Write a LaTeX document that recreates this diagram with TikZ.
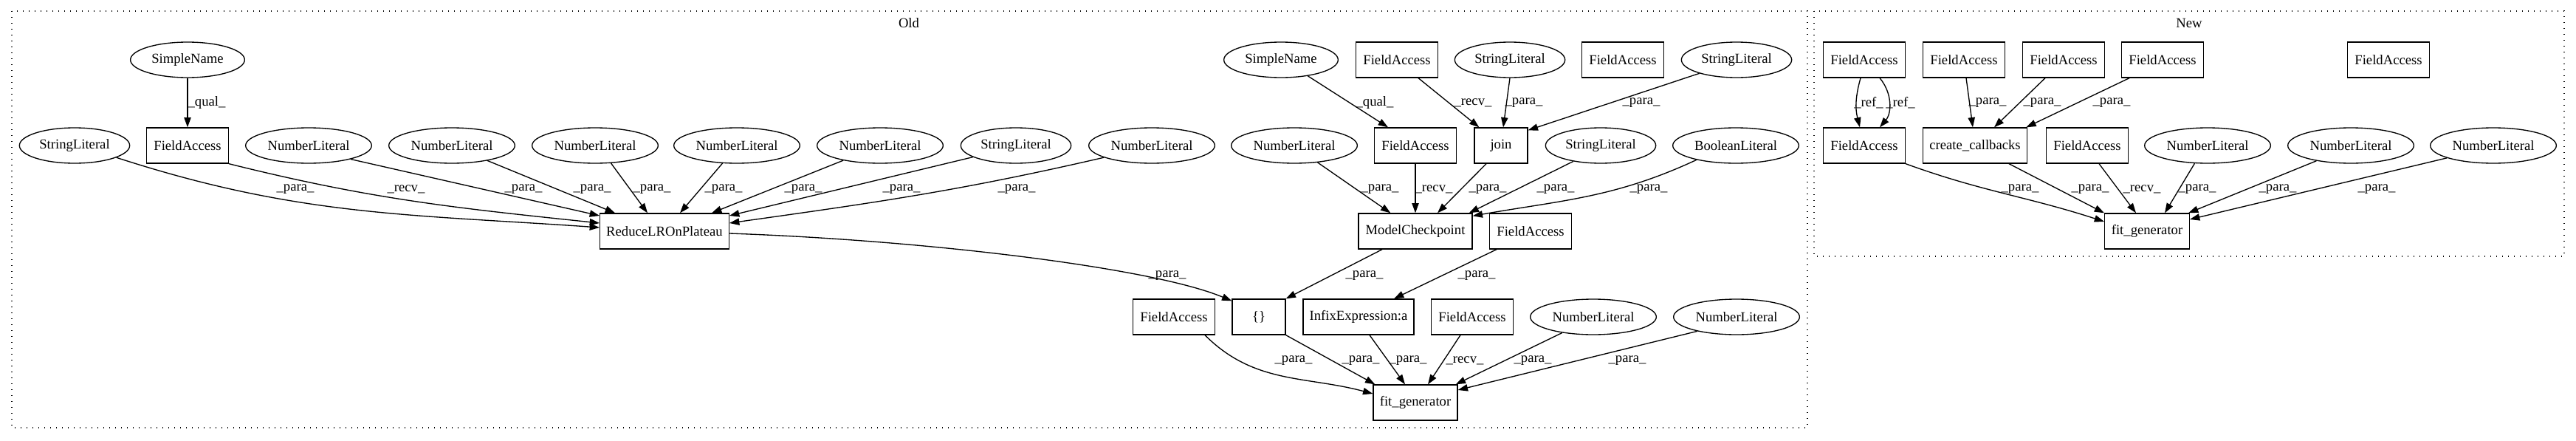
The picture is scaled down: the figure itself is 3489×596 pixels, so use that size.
\documentclass[tikz,border=0pt]{standalone}
\usepackage{fontspec}
\setmainfont{Liberation Serif}
\usetikzlibrary{shapes.geometric,arrows.meta}
\begin{document}
\begin{tikzpicture}[x=0.75pt,y=0.75pt,
  every node/.style={font=\fontsize{14pt}{16pt}\selectfont},
  box/.style={draw, rectangle, line width=1pt, minimum height=36pt, inner sep=0pt},
  ell/.style={draw, ellipse, line width=1pt, minimum height=36pt, inner sep=0pt},
  fa/.style={box, minimum width=83pt},
  nl/.style={ell, minimum width=128pt},
  sl/.style={ell, minimum width=112pt},
  sn/.style={ell, minimum width=116pt},
  e/.style={line width=1pt, -{Triangle[length=10pt,width=7pt]}},
  lbl/.style={inner sep=0pt},
  cluster/.style={line width=1pt, dash pattern=on 1pt off 5pt},
]
\useasboundingbox (0,0) rectangle (3489,-596);
% clusters
\draw[cluster] (16,-15) rectangle (2448,-579);
\draw[cluster] (2457,-15) rectangle (3473,-347);
\node (told) at (1231,-31) {Old};
\node (tnew) at (2965,-31) {New};

% ---------- Old ----------
% row 1
\node[sn] (osn1) at (254,-81) {SimpleName};
\node[sn] (osn2) at (1735,-81) {SimpleName};
\node[fa] (ofa1) at (1892,-81) {FieldAccess};
\node[sl] (osl1) at (2045,-81) {StringLiteral};
\node[fa] (ofa2) at (2198,-81) {FieldAccess};
\node[sl] (osl2) at (2352,-81) {StringLiteral};
% row 2
\node[sl] (osl3) at (101,-197) {StringLiteral};
\node[fa] (ofa3) at (254,-197) {FieldAccess};
\node[nl] (onl1) at (418,-197) {NumberLiteral};
\node[nl] (onl2) at (612,-197) {NumberLiteral};
\node[nl] (onl3) at (806,-197) {NumberLiteral};
\node[nl] (onl4) at (998,-197) {NumberLiteral};
\node[nl] (onl5) at (1192,-197) {NumberLiteral};
\node[sl] (osl4) at (1376,-197) {StringLiteral};
\node[nl] (onl6) at (1560,-197) {NumberLiteral};
\node[nl] (onl7) at (1753,-197) {NumberLiteral};
\node[fa] (ofa4) at (1917,-197) {FieldAccess};
\node[box, minimum width=54pt] (ojoin) at (2033,-197) {join};
\node[sl] (osl5) at (2168,-197) {StringLiteral};
\node[ell, minimum width=128pt] (obool) at (2351,-197) {BooleanLiteral};
% row 3
\node[box, minimum width=131pt] (orlr) at (900,-313) {ReduceLROnPlateau};
\node[box, minimum width=115.5pt] (omc) at (1917,-313) {ModelCheckpoint};
\node[fa] (ofa5) at (2073,-313) {FieldAccess};
% row 4
\node[fa] (ofa6) at (1590,-429) {FieldAccess};
\node[box, minimum width=54pt] (obr) at (1705,-429) {\{\}};
\node[box, minimum width=112.5pt] (oinf) at (1840,-429) {InfixExpression:a};
\node[fa] (ofa7) at (1994,-429) {FieldAccess};
\node[nl] (onl8) at (2158,-429) {NumberLiteral};
\node[nl] (onl9) at (2352,-429) {NumberLiteral};
% row 5
\node[box, minimum width=85.5pt] (ofit) at (1917,-545) {fit\_generator};

% Old edges
\draw[e] (osn1) -- (ofa3) node[lbl] (L1) at (280,-139) {\_qual\_};
\draw[e] (osl3.-16) to[out=-18,in=176] ([shift={(0,5)}]orlr.west) node[lbl] (L2) at (400,-256) {\_para\_};
\draw[e] (ofa3.south east) to[out=-14,in=174] ([shift={(0,11)}]orlr.west) node[lbl] (L3) at (550,-256) {\_recv\_};
\draw[e] (onl1.-18) -- ([shift={(0,21)}]orlr.west) node[lbl] (L4) at (709,-256) {\_para\_};
\draw[e] (onl2.-23) -- ([shift={(21,0)}]orlr.north west) node[lbl] (L5) at (802,-256) {\_para\_};
\draw[e] (onl3.-48) -- ([shift={(65,0)}]orlr.north west) node[lbl] (L6) at (883,-256) {\_para\_};
\draw[e] (onl4.-129) -- ([shift={(109,0)}]orlr.north west) node[lbl] (L7) at (980,-256) {\_para\_};
\draw[e] (onl5.-158) -- ([shift={(152,0)}]orlr.north west) node[lbl] (L8) at (1088,-256) {\_para\_};
\draw[e] (osl4.-165) -- ([shift={(0,21)}]orlr.east) node[lbl] (L9) at (1221,-256) {\_para\_};
\draw[e] (onl6.-166) to[out=-167,in=8] ([shift={(0,11)}]orlr.east) node[lbl] (L10) at (1377,-256) {\_para\_};
\draw[e] ([shift={(0,-3)}]orlr.east) .. controls (1250,-325) and (1560,-362) .. ([shift={(0,-3)}]obr.north west) node[lbl] (L11) at (1581,-373) {\_para\_};
\draw[e] (osn2.-31) -- ([shift={(19,0)}]ofa4.north west) node[lbl] (L12) at (1862,-139) {\_qual\_};
\draw[e] ([shift={(29,0)}]ofa1.south) -- ([shift={(7,0)}]ojoin.north west) node[lbl] (L13) at (1995,-139) {\_recv\_};
\draw[e] (osl1.south) -- ([shift={(3,0)}]ojoin.north) node[lbl] (L14) at (2064,-139) {\_para\_};
\draw[e] (osl2.-160) -- ([shift={(0,-4)}]ojoin.north east) node[lbl] (L15) at (2223,-139) {\_para\_};
\draw[e] (onl7.-36) -- ([shift={(44,0)}]omc.north west) node[lbl] (L16) at (1869,-256) {\_para\_};
\draw[e] (ofa4) -- (omc) node[lbl] (L17) at (1942,-256) {\_recv\_};
\draw[e] ([shift={(-20,0)}]ojoin.south) -- ([shift={(30,0)}]omc.north) node[lbl] (L18) at (2015,-256) {\_para\_};
\draw[e] (osl5.-150) -- ([shift={(-5,0)}]omc.north east) node[lbl] (L19) at (2107,-256) {\_para\_};
\draw[e] (obool.-160) to[out=-155,in=10] ([shift={(0,-4)}]omc.north east) node[lbl] (L20) at (2233,-256) {\_para\_};
\draw[e] ([shift={(-45,0)}]omc.south) -- (obr.north east) node[lbl] (L21) at (1848,-373) {\_para\_};
\draw[e] ([shift={(10,0)}]ofa5.south west) -- ([shift={(48,0)}]oinf.north) node[lbl] (L22) at (2000,-373) {\_para\_};
\draw[e] ([shift={(-14,0)}]ofa6.south east) to[out=-45,in=165] ([shift={(0,12)}]ofit.west) node[lbl] (L23) at (1752,-488) {\_para\_};
\draw[e] (obr.south east) -- ([shift={(3,0)}]ofit.north west) node[lbl] (L24) at (1843,-488) {\_para\_};
\draw[e] ([shift={(15,0)}]oinf.south) -- ([shift={(-14,0)}]ofit.north) node[lbl] (L25) at (1907,-488) {\_para\_};
\draw[e] ([shift={(-16,0)}]ofa7.south) -- ([shift={(17,0)}]ofit.north) node[lbl] (L26) at (1984,-488) {\_recv\_};
\draw[e] (onl8.-153) -- ([shift={(-3,0)}]ofit.north east) node[lbl] (L27) at (2076,-488) {\_para\_};
\draw[e] (onl9.-160) -- ([shift={(0,17)}]ofit.east) node[lbl] (L28) at (2204,-488) {\_para\_};

% ---------- New ----------
\node[fa] (nfa1) at (2525,-81) {FieldAccess};
\node[fa] (nfa2) at (2660,-81) {FieldAccess};
\node[fa] (nfa3) at (2795,-81) {FieldAccess};
\node[fa] (nfa4) at (2929,-81) {FieldAccess};
\node[fa] (nfa5) at (3235,-81) {FieldAccess};
\node[fa] (nfa6) at (2525,-197) {FieldAccess};
\node[box, minimum width=106pt] (ncc) at (2675,-197) {create\_callbacks};
\node[fa] (nfa7) at (2827,-197) {FieldAccess};
\node[nl] (nnl1) at (2990,-197) {NumberLiteral};
\node[nl] (nnl2) at (3184,-197) {NumberLiteral};
\node[nl] (nnl3) at (3377,-197) {NumberLiteral};
\node[box, minimum width=86pt] (nfit) at (2908,-313) {fit\_generator};

\draw[e] ([shift={(-5,0)}]nfa1.south) to[bend right=15] ([shift={(-6,0)}]nfa6.north) node[lbl] (L29) at (2531,-139) {\_ref\_};
\draw[e] ([shift={(21,0)}]nfa1.south) to[bend left=40] ([shift={(21,0)}]nfa6.north) node[lbl] (L30) at (2574,-139) {\_ref\_};
\draw[e] ([shift={(3,0)}]nfa2.south) -- ([shift={(-3,0)}]ncc.north) node[lbl] (L31) at (2692,-139) {\_para\_};
\draw[e] ([shift={(-25,0)}]nfa3.south) -- ([shift={(26,0)}]ncc.north) node[lbl] (L32) at (2766,-139) {\_para\_};
\draw[e] ([shift={(11,0)}]nfa4.south west) -- ([shift={(-2,0)}]ncc.north east) node[lbl] (L33) at (2860,-139) {\_para\_};
\draw[e] (nfa6.south east) to[out=-20,in=162] ([shift={(0,13)}]nfit.west) node[lbl] (L34) at (2736,-256) {\_para\_};
\draw[e] ([shift={(46,0)}]ncc.south) -- (nfit.north west) node[lbl] (L35) at (2831,-256) {\_para\_};
\draw[e] ([shift={(16,0)}]nfa7.south) -- ([shift={(-15,0)}]nfit.north) node[lbl] (L36) at (2901,-256) {\_recv\_};
\draw[e] (nnl1.-126) -- ([shift={(24,0)}]nfit.north) node[lbl] (L37) at (2976,-256) {\_para\_};
\draw[e] (nnl2.-156) -- ([shift={(-2,0)}]nfit.north east) node[lbl] (L38) at (3085,-256) {\_para\_};
\draw[e] (nnl3.-165) -- ([shift={(0,16)}]nfit.east) node[lbl] (L39) at (3219,-256) {\_para\_};
\end{tikzpicture}
\end{document}
